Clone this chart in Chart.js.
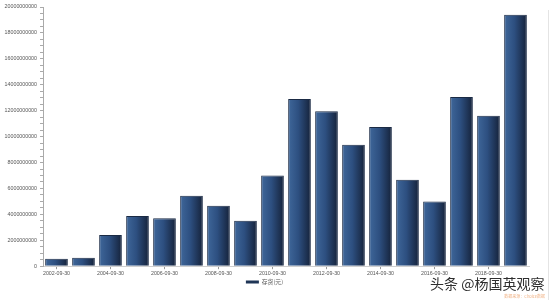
<!DOCTYPE html>
<html>
<head>
<meta charset="utf-8">
<script src="https://cdn.jsdelivr.net/npm/chart.js@4/dist/chart.umd.min.js"></script>
<style>
html,body{margin:0;padding:0;background:#fff;}
#wrap{position:relative;width:553px;height:300px;}
</style>
</head>
<body>
<div id="wrap"><canvas id="c" width="553" height="300"></canvas></div>
<script>
const categories = ["2002-09-30","2003-09-30","2004-09-30","2005-09-30","2006-09-30","2007-09-30","2008-09-30","2009-09-30","2010-09-30","2011-09-30","2012-09-30","2013-09-30","2014-09-30","2015-09-30","2016-09-30","2017-09-30","2018-09-30","2019-09-30"];
const inventory = [570000000,650000000,2400000000,3870000000,3700000000,5440000000,4670000000,3510000000,7000000000,12900000000,11950000000,9370000000,10750000000,6680000000,5000000000,13050000000,11600000000,19400000000];
const seriesName = "存货(元)";
const yMin = 0, yMax = 20000000000, yStep = 500000000, yLabelStep = 2000000000;
const watermark = "头条 @杨国英观察";
const sourceNote = "数据来源：Choice数据";

const FONT = "'Liberation Sans', Arial, sans-serif";

function barGradient(ctx) {
  const chart = ctx.chart;
  const xs = chart.scales.x;
  if (!xs || ctx.dataIndex === undefined) return '#2c4770';
  const cx = xs.getPixelForValue(ctx.dataIndex);
  const w = (xs.right - xs.left) / categories.length * 0.84;
  const g = chart.ctx.createLinearGradient(cx - w / 2, 0, cx + w / 2, 0);
  g.addColorStop(0, '#3f679a');
  g.addColorStop(0.45, '#2d4f80');
  g.addColorStop(1, '#15223a');
  return g;
}

const decor = {
  id: 'decor',
  afterDraw(chart) {
    const c = chart.ctx;
    c.save();
    c.strokeStyle = '#e4e4e4';
    c.lineWidth = 1;
    c.beginPath();
    c.moveTo(548.5, 10); c.lineTo(548.5, 300);
    c.stroke();
    c.font = "14px 'Noto Sans CJK SC', sans-serif";
    c.textBaseline = 'alphabetic';
    c.textAlign = 'left';
    c.lineJoin = 'round';
    c.strokeStyle = 'rgba(255,255,255,0.95)';
    c.lineWidth = 3;
    c.strokeText(watermark, 430, 289);
    c.fillStyle = '#2e2e2e';
    c.fillText(watermark, 430, 289);
    c.font = "4px 'Noto Sans CJK SC', sans-serif";
    c.fillStyle = '#f0b488';
    c.textAlign = 'right';
    c.fillText(sourceNote, 545, 298);
    c.restore();
  }
};

new Chart(document.getElementById('c'), {
  type: 'bar',
  data: {
    labels: categories,
    datasets: [{
      label: seriesName,
      data: inventory,
      backgroundColor: barGradient,
      borderColor: '#1a2a44',
      borderWidth: 1,
      borderSkipped: 'bottom',
      barPercentage: 0.84,
      categoryPercentage: 1.0
    }]
  },
  options: {
    responsive: false,
    animation: false,
    devicePixelRatio: 1,
    layout: { padding: { top: 7, right: 24, bottom: 5, left: 0 } },
    plugins: {
      tooltip: { enabled: false },
      legend: {
        position: 'bottom',
        labels: {
          boxWidth: 13,
          boxHeight: 3,
          padding: 3,
          color: '#555',
          font: { size: 5.8, family: "'Noto Sans CJK SC', sans-serif" },
          generateLabels: () => [{ text: seriesName, fillStyle: '#1f3556', strokeStyle: '#1f3556', lineWidth: 0, datasetIndex: 0, fontColor: '#555' }]
        }
      }
    },
    scales: {
      x: {
        afterFit(s) { s.height = 10; },
        border: { display: true, color: '#cfcfcf', width: 1 },
        grid: {
          drawOnChartArea: false,
          drawTicks: true,
          tickLength: 3,
          offset: false,
          color: (ctx) => (ctx.index % 2 === 0 ? '#999' : 'rgba(0,0,0,0)')
        },
        ticks: {
          autoSkip: false,
          maxRotation: 0,
          minRotation: 0,
          padding: 1,
          color: '#555',
          font: { size: 5.3, family: FONT },
          callback: (v, i) => (i % 2 === 0 ? categories[i] : '')
        }
      },
      y: {
        min: yMin,
        max: yMax,
        afterFit(s) { s.width = 43; },
        border: { display: true, color: '#aaa', width: 1 },
        grid: {
          drawOnChartArea: false,
          drawTicks: true,
          tickLength: 3,
          color: '#aaa'
        },
        ticks: {
          stepSize: yStep,
          autoSkip: false,
          padding: 3,
          color: '#555',
          font: { size: 5.3, family: FONT },
          callback: (v) => (v % yLabelStep === 0 ? String(v) : '')
        }
      }
    }
  },
  plugins: [decor]
});
</script>
</body>
</html>
